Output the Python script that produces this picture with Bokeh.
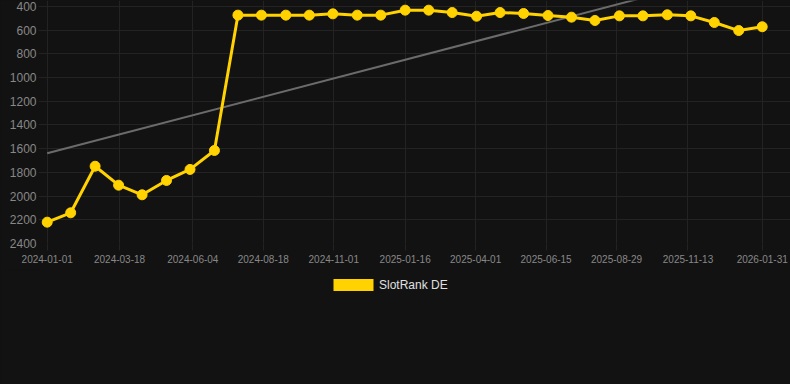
import numpy as np
import pandas as pd
from bokeh.plotting import figure
from bokeh.layouts import column
from bokeh.models import (Range1d, FixedTicker, DatetimeTickFormatter,
                          Legend, LegendItem)
from bokeh.embed import file_html
from bokeh.resources import INLINE

# ---------------- data ----------------
dates = ["2024-01-01", "2024-01-26", "2024-02-21", "2024-03-17", "2024-04-11",
         "2024-05-07", "2024-06-01", "2024-06-27", "2024-07-22", "2024-08-16",
         "2024-09-11", "2024-10-06", "2024-10-31", "2024-11-26", "2024-12-21",
         "2025-01-16", "2025-02-10", "2025-03-07", "2025-04-02", "2025-04-27",
         "2025-05-22", "2025-06-17", "2025-07-12", "2025-08-06", "2025-09-01",
         "2025-09-26", "2025-10-22", "2025-11-16", "2025-12-11", "2026-01-06",
         "2026-01-31"]
ranks = [2220, 2141, 1748, 1908, 1989, 1868, 1775, 1615, 473, 473,
         473, 473, 462, 473, 473, 431, 431, 451, 482, 451,
         459, 476, 490, 518, 479, 479, 470, 479, 535, 603,
         571]
x_tick_labels = ["2024-01-01", "2024-03-18", "2024-06-04", "2024-08-18",
                 "2024-11-01", "2025-01-16", "2025-04-01", "2025-06-15",
                 "2025-08-29", "2025-11-13", "2026-01-31"]
y_ticks = [400, 600, 800, 1000, 1200, 1400, 1600, 1800, 2000, 2200, 2400]
series_name = "SlotRank DE"

# ---------------- helpers ----------------
DAY = 86400000.0


def to_ms(s):
    return (pd.Timestamp(s) - pd.Timestamp("1970-01-01")).total_seconds() * 1000.0


xs = [to_ms(d) for d in dates]
x_first, x_last = xs[0], xs[-1]

# linear trend of the series
days = (np.array(xs) - x_first) / DAY
coef = np.polyfit(days, np.array(ranks, dtype=float), 1)
trend_x = [x_first, x_last]
trend_y = list(np.polyval(coef, [(x - x_first) / DAY for x in trend_x]))

BG = "#121212"
GRID = "#232323"
YELLOW = "#FFD200"
FONT = "Liberation Sans"

p = figure(width=790, height=270, x_axis_type="datetime",
           x_range=Range1d(to_ms("2024-01-01") - 9.26 * DAY, to_ms("2026-01-31") + 30.1 * DAY),
           y_range=Range1d(2400, 349.4),
           output_backend="svg", toolbar_location=None,
           min_border_left=38, min_border_right=0, min_border_top=0,
           min_border_bottom=27,
           background_fill_color=BG, border_fill_color=BG,
           outline_line_color=None)

# trend line
p.line(trend_x, trend_y, line_color="#6b6b6b", line_width=2)
# series
p.line(xs, ranks, line_color=YELLOW, line_width=3)
p.scatter(xs, ranks, size=10, fill_color=YELLOW, line_color=YELLOW)

# axes
p.xaxis.ticker = FixedTicker(ticks=[to_ms(s) for s in x_tick_labels])
fmt = "%Y-%m-%d"
p.xaxis.formatter = DatetimeTickFormatter(
    microseconds=fmt, milliseconds=fmt, seconds=fmt, minsec=fmt, minutes=fmt,
    hourmin=fmt, hours=fmt, days=fmt, months=fmt, years=fmt)
p.yaxis.ticker = FixedTicker(ticks=y_ticks)

p.axis.axis_line_color = None
p.axis.minor_tick_line_color = None
p.xaxis.major_tick_in = 0
p.xaxis.major_tick_out = 7
p.xaxis.major_tick_line_color = GRID
p.xaxis.major_label_standoff = 4
p.xaxis.major_label_text_font = FONT
p.xaxis.major_label_text_font_size = "10px"
p.xaxis.major_label_text_color = "#888888"

p.yaxis.major_tick_in = 0
p.yaxis.major_tick_out = 0
p.yaxis.major_label_standoff = 2
p.yaxis.major_label_text_font = FONT
p.yaxis.major_label_text_font_size = "12px"
p.yaxis.major_label_text_color = "#888888"

p.grid.grid_line_color = GRID
p.grid.grid_line_width = 1

# ---------------- legend strip ----------------
lg = figure(width=790, height=114, x_range=Range1d(0, 1), y_range=Range1d(0, 1),
            x_axis_location=None, y_axis_location=None,
            output_backend="svg", toolbar_location=None,
            min_border_left=0, min_border_right=0, min_border_top=0,
            min_border_bottom=0,
            background_fill_color=BG, border_fill_color=BG,
            outline_line_color=None)
lg.grid.visible = False
# zero-area swatch renderer, only used to draw the legend key
swatch = lg.quad(left=[0], right=[0], top=[0], bottom=[0],
                 fill_color=YELLOW, line_color=None)
legend = Legend(items=[LegendItem(label=series_name, renderers=[swatch])],
                location=(290, 92), orientation="horizontal",
                glyph_width=50, glyph_height=15, label_height=15,
                label_standoff=1,
                padding=0, margin=0, spacing=0,
                border_line_color=None, background_fill_alpha=0,
                label_text_color="#e0e0e0", label_text_font_size="12px",
                label_text_font=FONT)
lg.add_layout(legend)

layout = column(p, lg, spacing=0)

html = None
try:
    html = file_html(layout, INLINE, template=(
        "{% block preamble %}<style>html, body { margin: 0; padding: 0; "
        "background: #121212; }</style>{% endblock %}"))
except Exception:
    html = None
if html is None:
    html = file_html(layout, INLINE)
open("out.html", "w").write(html)
